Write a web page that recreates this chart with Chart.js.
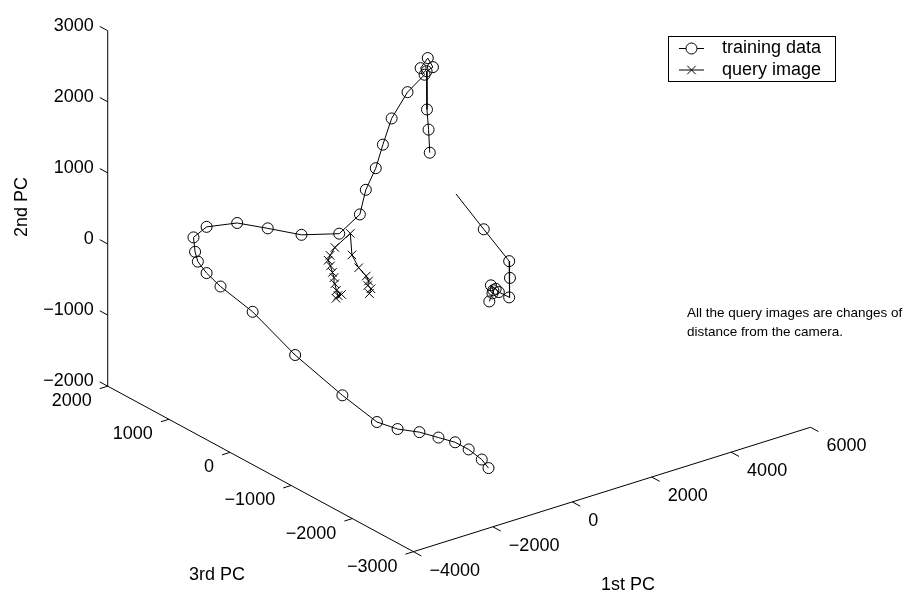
<!DOCTYPE html>
<html>
<head>
<meta charset="utf-8">
<script src="https://cdn.jsdelivr.net/npm/chart.js@4/dist/chart.umd.min.js"></script>
<style>
  body { margin: 0; background: #fff; }
  #wrap { width: 909px; height: 595px; }
</style>
</head>
<body>
<div id="wrap"><canvas id="grafico" width="909" height="595"></canvas></div>
<script>
// training data, first run (from the bottom right, round the loop, up to the top)
let trainPc1 = [-570, -740, -1070, -1410, -1830, -2310, -2860, -3380, -3480, -3130, -2660, -2700,
  -3050, -3270, -3340, -3380, -3050, -2280, -1510, -660, 290, 810, 960, 1210,
  1390, 1610, 2010, 2440, 2340, 2520, 2650, 2490, 2500, 2540, 2570]
let trainPc2 = [-1890, -1740, -1540, -1380, -1240, -1080, -940, -750, -590, -550, -490, -360,
  -110, 90, 240, 450, 540, 460, 250, 10, -140, 40, 360, 620,
  920, 1250, 1550, 1720, 1830, 1940, 1790, 1760, 1220, 930, 600]
let trainPc3 = [-2000, -2000, -2000, -2000, -2000, -2000, -2000, -2000, -1500, -500, 500, 1000,
  1000, 1000, 1000, 1000, 1000, 1000, 1000, 1000, 1000, 1000, 1000, 1000,
  1000, 1000, 1000, 1000, 1000, 1000, 1000, 1000, 1000, 1000, 1000]

// training data, second run (first point is outside the box, only its line shows)
let train2Pc1 = [1690, 2390, 3030, 3050, 3030, 2770, 2690, 2570, 2630, 2610, 2530]
let train2Pc2 = [640, 20, -540, -780, -1050, -930, -870, -800, -880, -920, -1020]
let train2Pc3 = [0, 0, 0, 0, 0, 0, 0, 0, 0, 0, 0]

// query images
let queryPc1 = [-1330, -1190, -1280, -1320, -1360, -1380, -1420, -1470, -1530, -1480,
  -1360, -970, -930, -760, -570, -510, -530, -450, -490]
let queryPc2 = [-300, -270, -270, -190, -90, 0, 80, 180, 270, 330,
  420, 550, 240, 30, -120, -200, -260, -320, -380]
let queryPc3 = [0, 0, 0, 0, 0, 0, 0, 0, 0, 0, 0, 0, 0, 0, 0, 0, 0, 0, 0]

let ticksPc1 = [-4000, -2000, 0, 2000, 4000, 6000]
let ticksPc2 = [-2000, -1000, 0, 1000, 2000, 3000]
let ticksPc3 = [-3000, -2000, -1000, 0, 1000, 2000]

// view of the 3d box: where the corner (pc1 min, pc2 min, pc3 max) lands and
// how far one step of 1000 moves along each axis
var view = {
  x0: 102.3, y0: 388.3,
  min1: -4000, min2: -2000, max3: 2000,
  step1: [40.33, -12.74],
  step2: [0, -72.8],
  step3: [-62.1, -33.9]
}

function project(p1, p2, p3) {
  var a = (p1 - view.min1) / 1000, b = (p2 - view.min2) / 1000, c = (p3 - view.max3) / 1000
  return {
    x: view.x0 + view.step1[0] * a + view.step2[0] * b + view.step3[0] * c,
    y: view.y0 + view.step1[1] * a + view.step2[1] * b + view.step3[1] * c
  }
}

function points(pc1, pc2, pc3) {
  return pc1.map((v, i) => project(v, pc2[i], pc3[i]))
}

var fonte = '18px "Liberation Sans", Arial, Helvetica, sans-serif'

function text(ctx, s, x, y, align) {
  ctx.textAlign = align
  ctx.textBaseline = 'middle'
  ctx.fillText(s, x, y)
}

function fmt(v) {
  return v < 0 ? '\u2212' + Math.abs(v) : String(v)
}

// the three box edges with their ticks and labels
var eixos3d = {
  id: 'eixos3d',
  beforeDatasetsDraw(chart) {
    var ctx = chart.ctx, sx = chart.scales.x, sy = chart.scales.y
    var px = p => ({ x: sx.getPixelForValue(p.x), y: sy.getPixelForValue(p.y) })
    var max1 = ticksPc1[ticksPc1.length - 1], max2 = ticksPc2[ticksPc2.length - 1], min3 = ticksPc3[0]

    function seg(a, b) {
      ctx.beginPath()
      ctx.moveTo(a.x, a.y)
      ctx.lineTo(b.x, b.y)
      ctx.stroke()
    }

    ctx.save()
    ctx.strokeStyle = '#000'
    ctx.fillStyle = '#000'
    ctx.lineWidth = 1
    ctx.font = fonte

    // 2nd PC, vertical edge
    seg(px(project(view.min1, view.min2, view.max3)), px(project(view.min1, max2, view.max3)))
    ticksPc2.forEach(t => {
      var a = px(project(view.min1, t, view.max3))
      var b = px(project(view.min1, t, view.max3 + 130))
      seg(a, b)
      text(ctx, fmt(t), a.x - 14, a.y - 5, 'right')
    })

    // 3rd PC, left front edge
    seg(px(project(view.min1, view.min2, view.max3)), px(project(view.min1, view.min2, min3)))
    ticksPc3.forEach(t => {
      var a = px(project(view.min1, view.min2, t))
      var b = px(project(view.min1 - 200, view.min2, t))
      seg(a, b)
      text(ctx, fmt(t), a.x - 16, a.y + 15, 'right')
    })

    // 1st PC, right front edge
    seg(px(project(view.min1, view.min2, min3)), px(project(max1, view.min2, min3)))
    ticksPc1.forEach(t => {
      var a = px(project(t, view.min2, min3))
      var b = px(project(t, view.min2, min3 - 130))
      seg(a, b)
      text(ctx, fmt(t), a.x + 16, a.y + 19, 'left')
    })

    text(ctx, '3rd PC', 217, 575, 'center')
    text(ctx, '1st PC', 628, 585, 'center')
    ctx.translate(22, 207)
    ctx.rotate(-Math.PI / 2)
    text(ctx, '2nd PC', 0, 0, 'center')
    ctx.restore()
  },
  afterDraw(chart) {
    var ctx = chart.ctx
    ctx.save()
    // legend box
    ctx.fillStyle = '#fff'
    ctx.fillRect(668.5, 36.5, 167, 45)
    ctx.strokeStyle = '#000'
    ctx.lineWidth = 1
    ctx.strokeRect(668.5, 36.5, 167, 45)
    var linhas = [[0, 48.5], [2, 70]]
    linhas.forEach(l => {
      var ds = chart.data.datasets[l[0]]
      ctx.beginPath()
      ctx.moveTo(679, l[1])
      ctx.lineTo(704, l[1])
      ctx.stroke()
      Chart.helpers.drawPoint(ctx, {
        pointStyle: ds.pointStyle, radius: ds.legendRadius, borderWidth: 1, rotation: 0
      }, 691.5, l[1])
      ctx.fillStyle = '#000'
      ctx.font = fonte
      text(ctx, ds.label, 722, l[1], 'left')
    })

    ctx.font = '13.5px "Liberation Sans", Arial, Helvetica, sans-serif'
    text(ctx, 'All the query images are changes of', 687, 313, 'left')
    text(ctx, 'distance from the camera.', 687, 332, 'left')
    ctx.restore()
  }
}

var estilo = {
  showLine: true,
  borderColor: '#000',
  borderWidth: 1,
  pointBorderColor: '#000',
  pointBackgroundColor: 'rgba(0,0,0,0)',
  pointBorderWidth: 1
}

var ctx = document.getElementById('grafico').getContext('2d')
var grafico = new Chart(ctx, {
  type: 'scatter',
  data: {
    datasets: [
      Object.assign({}, estilo, {
        label: 'training data',
        data: points(trainPc1, trainPc2, trainPc3),
        pointStyle: 'circle', pointRadius: 5.5, legendRadius: 5.5
      }),
      Object.assign({}, estilo, {
        label: 'training data',
        data: points(train2Pc1, train2Pc2, train2Pc3),
        pointStyle: 'circle',
        pointRadius: c => c.dataIndex === 0 ? 0 : 5.5
      }),
      Object.assign({}, estilo, {
        label: 'query image',
        data: points(queryPc1, queryPc2, queryPc3),
        pointStyle: 'crossRot', pointRadius: 6, legendRadius: 6
      })
    ]
  },
  options: {
    responsive: false,
    animation: false,
    layout: { padding: 0 },
    elements: { line: { tension: 0 } },
    scales: {
      x: { type: 'linear', min: 0, max: 909, display: false },
      y: { type: 'linear', min: 0, max: 595, reverse: true, display: false }
    },
    plugins: { legend: { display: false }, tooltip: { enabled: false } }
  },
  plugins: [eixos3d]
})
</script>
</body>
</html>
